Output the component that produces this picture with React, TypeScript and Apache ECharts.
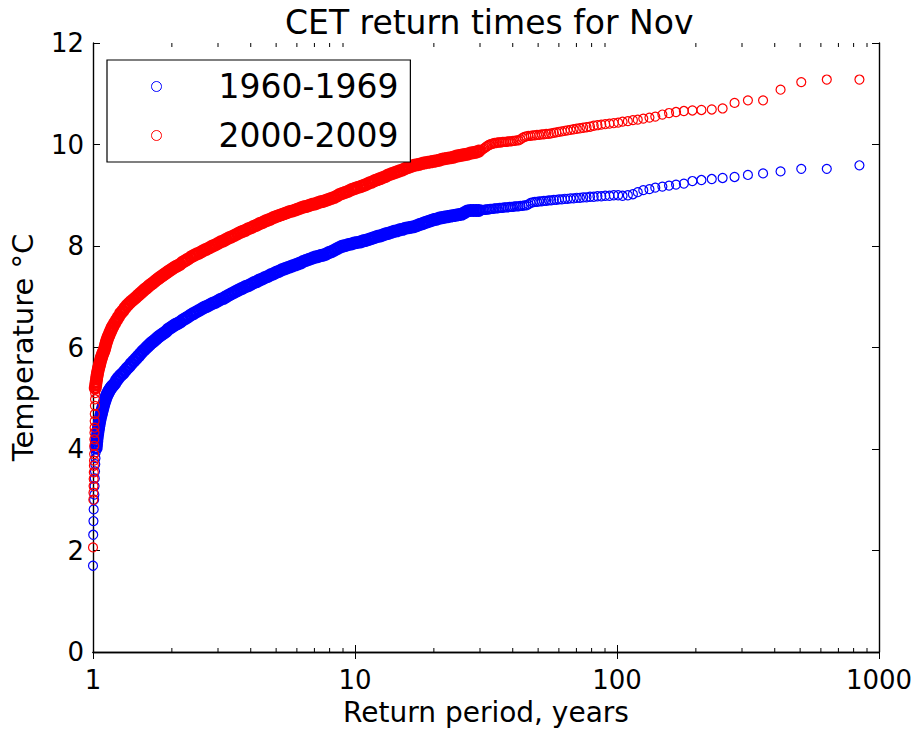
import React, { useEffect, useRef } from "react";
import * as echarts from "echarts";

const FONT = "'DejaVu Sans', 'Bitstream Vera Sans', sans-serif";

const TITLE = "CET return times for Nov";
const X_NAME = "Return period, years";
const Y_NAME = "Temperature °C";
const SERIES_NAMES = ["1960-1969", "2000-2009"];
const Y_TICKS = [0, 2, 4, 6, 8, 10, 12];
const MINOR_TICKS = [2, 3, 4, 5, 6, 7, 8, 9, 20, 30, 40, 50, 60, 70, 80, 90, 200, 300, 400, 500, 600, 700, 800, 900];

// 1960-1969: isolated points near return period 1
const blueStack: number[][] = [
  [1.0, 1.7], [1.002, 2.31], [1.004, 2.58], [1.006, 2.81], [1.01, 3.0], [1.012, 3.1], [1.014, 3.27],
  [1.016, 3.42], [1.018, 3.56], [1.02, 3.7], [1.022, 3.82], [1.025, 3.94],
];
// 1960-1969: densely packed band (return period ~1 to 30)
const blueBand: number[][] = [
  [1.028, 4.02], [1.031, 4.09], [1.034, 4.16], [1.038, 4.23], [1.042, 4.3], [1.046, 4.36], [1.05, 4.42],
  [1.055, 4.48], [1.06, 4.54], [1.066, 4.6], [1.072, 4.66], [1.078, 4.71], [1.084, 4.76], [1.09, 4.81],
  [1.097, 4.86], [1.104, 4.91], [1.112, 4.96], [1.12, 5.01], [1.13, 5.06], [1.14, 5.1], [1.15, 5.14],
  [1.16, 5.17], [1.17, 5.2], [1.181, 5.23], [1.192, 5.25],
  [1.21, 5.29], [1.23, 5.35], [1.25, 5.4], [1.275, 5.45], [1.3, 5.49], [1.325, 5.54], [1.35, 5.59],
  [1.375, 5.63], [1.4, 5.68], [1.43, 5.73], [1.46, 5.78], [1.49, 5.83], [1.52, 5.88], [1.55, 5.93],
  [1.58, 5.97], [1.61, 6.01], [1.64, 6.05], [1.67, 6.09], [1.7, 6.12], [1.735, 6.16], [1.77, 6.2],
  [1.8, 6.23], [1.835, 6.26], [1.87, 6.29], [1.905, 6.32], [1.94, 6.36], [1.98, 6.39], [2.02, 6.42],
  [2.06, 6.45],
  [2.1, 6.47], [2.15, 6.5], [2.2, 6.54], [2.25, 6.57], [2.3, 6.6], [2.36, 6.64], [2.42, 6.67],
  [2.48, 6.7], [2.54, 6.73], [2.6, 6.76], [2.66, 6.79], [2.72, 6.81], [2.79, 6.84], [2.86, 6.87],
  [2.93, 6.89], [3.0, 6.92], [3.07, 6.95], [3.15, 6.97], [3.22, 7.0], [3.3, 7.03], [3.38, 7.06],
  [3.47, 7.09], [3.56, 7.12], [3.65, 7.15], [3.73, 7.17], [3.82, 7.2], [3.92, 7.22], [4.02, 7.25],
  [4.12, 7.28], [4.22, 7.3], [4.32, 7.33], [4.43, 7.35], [4.54, 7.38], [4.65, 7.4], [4.76, 7.43],
  [4.88, 7.45], [5.0, 7.48],
  [5.12, 7.5], [5.25, 7.53], [5.38, 7.55], [5.51, 7.57], [5.65, 7.59], [5.78, 7.61], [5.93, 7.63],
  [6.07, 7.65], [6.22, 7.67], [6.38, 7.7], [6.54, 7.72], [6.7, 7.74], [6.87, 7.76], [7.04, 7.78],
  [7.2, 7.79], [7.38, 7.81], [7.56, 7.82], [7.75, 7.84], [7.94, 7.87], [8.14, 7.89], [8.35, 7.92],
  [8.56, 7.95], [8.78, 7.98], [9.0, 8.0], [9.22, 8.01], [9.45, 8.03], [9.7, 8.04], [9.95, 8.06],
  [10.2, 8.07], [10.5, 8.08], [10.75, 8.1], [11.0, 8.11], [11.3, 8.13], [11.6, 8.15], [11.9, 8.17],
  [12.2, 8.19], [12.5, 8.2], [12.8, 8.22], [13.1, 8.24], [13.4, 8.25], [13.75, 8.27], [14.1, 8.29],
  [14.45, 8.3], [14.8, 8.32], [15.2, 8.33], [15.6, 8.35], [16.0, 8.36], [16.4, 8.37], [16.8, 8.38],
  [17.2, 8.4], [17.6, 8.42], [18.1, 8.44], [18.5, 8.46], [19.0, 8.48], [19.5, 8.5], [20.0, 8.52],
  [20.5, 8.53], [21.0, 8.55], [21.5, 8.56], [22.0, 8.57], [22.6, 8.58], [23.2, 8.59], [23.8, 8.6],
  [24.4, 8.61], [25.0, 8.62], [25.6, 8.63], [26.2, 8.66], [26.9, 8.69], [27.6, 8.7], [28.3, 8.7],
  [29.0, 8.7], [29.7, 8.7],
];
// 1960-1969: separate points at long return periods
const blueTail: number[][] = [
  [30.1, 8.7], [30.4, 8.71], [30.8, 8.71], [31.2, 8.71], [31.6, 8.72], [32.0, 8.72], [32.4, 8.72],
  [32.8, 8.73], [33.2, 8.73], [33.7, 8.73], [34.1, 8.74], [34.6, 8.74], [35.1, 8.74], [35.6, 8.75],
  [36.1, 8.75], [36.6, 8.75], [37.1, 8.76], [37.7, 8.76], [38.3, 8.76], [38.9, 8.77], [39.5, 8.77],
  [40.1, 8.77], [40.7, 8.78], [41.4, 8.78], [42.1, 8.78], [42.8, 8.79], [43.6, 8.79], [44.3, 8.8],
  [45.1, 8.8], [45.9, 8.82], [46.8, 8.85], [47.7, 8.86], [48.6, 8.87], [49.5, 8.87], [50.5, 8.88],
  [51.6, 8.88], [52.6, 8.89], [53.7, 8.89], [54.9, 8.9], [56.1, 8.9], [57.4, 8.91], [58.7, 8.91],
  [60.1, 8.92], [61.6, 8.92], [63.2, 8.93], [64.8, 8.93], [66.5, 8.94], [68.3, 8.94], [70.2, 8.95],
  [72.2, 8.95], [74.3, 8.96], [76.5, 8.96], [78.9, 8.97], [81.5, 8.97], [84.2, 8.98], [87.1, 8.98],
  [90.2, 8.99], [93.6, 8.99], [97.2, 9.0], [101, 9.0],
  [105, 8.99], [110, 9.0], [115, 9.02], [120, 9.06], [126, 9.1], [133, 9.12], [140, 9.15], [149, 9.17],
  [158, 9.19], [168, 9.21], [180, 9.23], [194, 9.28], [210, 9.3], [230, 9.32], [253, 9.34], [281, 9.36],
  [316, 9.4], [361, 9.43], [421, 9.47], [505, 9.52], [632, 9.52], [842, 9.59],
];

// 2000-2009: isolated points near return period 1
const redStack: number[][] = [
  [1.0, 2.06], [1.003, 3.0], [1.004, 3.14], [1.005, 3.27], [1.006, 3.41], [1.007, 3.54], [1.008, 3.67],
  [1.009, 3.77], [1.01, 3.9], [1.011, 4.06], [1.012, 4.19], [1.013, 4.32], [1.014, 4.42], [1.015, 4.55],
  [1.016, 4.69], [1.017, 4.85], [1.018, 4.98], [1.019, 5.1],
];
// 2000-2009: densely packed band (return period ~1 to 30)
const redBand: number[][] = [
  [1.02, 5.2], [1.024, 5.26], [1.028, 5.32], [1.032, 5.38], [1.036, 5.44], [1.04, 5.49], [1.045, 5.54],
  [1.05, 5.59], [1.055, 5.63], [1.06, 5.67], [1.066, 5.72], [1.072, 5.77], [1.078, 5.81], [1.085, 5.85],
  [1.092, 5.89], [1.1, 5.93], [1.108, 5.98], [1.116, 6.04], [1.124, 6.1], [1.132, 6.15], [1.141, 6.2],
  [1.15, 6.24], [1.16, 6.29], [1.17, 6.33], [1.181, 6.38], [1.192, 6.42],
  [1.21, 6.48], [1.23, 6.54], [1.25, 6.6], [1.275, 6.67], [1.3, 6.72], [1.325, 6.78], [1.35, 6.83],
  [1.375, 6.87], [1.4, 6.91], [1.43, 6.95], [1.46, 6.99], [1.49, 7.03], [1.52, 7.07], [1.55, 7.11],
  [1.58, 7.15], [1.61, 7.18], [1.64, 7.22], [1.67, 7.25], [1.7, 7.28], [1.735, 7.32], [1.77, 7.35],
  [1.8, 7.38], [1.835, 7.41], [1.87, 7.44], [1.905, 7.47], [1.94, 7.5], [1.98, 7.53], [2.02, 7.56],
  [2.06, 7.59],
  [2.1, 7.61], [2.15, 7.64], [2.2, 7.68], [2.25, 7.71], [2.3, 7.74], [2.36, 7.78], [2.42, 7.81],
  [2.48, 7.84], [2.54, 7.86], [2.6, 7.89], [2.66, 7.92], [2.72, 7.94], [2.79, 7.97], [2.86, 8.0],
  [2.93, 8.02], [3.0, 8.05], [3.07, 8.08], [3.15, 8.1], [3.22, 8.13], [3.3, 8.16], [3.38, 8.18],
  [3.47, 8.21], [3.56, 8.24], [3.65, 8.27], [3.73, 8.29], [3.82, 8.31], [3.92, 8.34], [4.02, 8.36],
  [4.12, 8.39], [4.22, 8.41], [4.32, 8.44], [4.43, 8.46], [4.54, 8.49], [4.65, 8.51], [4.76, 8.53],
  [4.88, 8.56], [5.0, 8.58],
  [5.12, 8.6], [5.25, 8.62], [5.38, 8.64], [5.51, 8.66], [5.65, 8.68], [5.78, 8.69], [5.93, 8.71],
  [6.07, 8.73], [6.22, 8.75], [6.38, 8.77], [6.54, 8.78], [6.7, 8.8], [6.87, 8.82], [7.04, 8.83],
  [7.2, 8.85], [7.38, 8.87], [7.56, 8.88], [7.75, 8.9], [7.94, 8.92], [8.14, 8.94], [8.35, 8.96],
  [8.56, 8.99], [8.78, 9.02], [9.0, 9.04], [9.22, 9.06], [9.45, 9.08], [9.7, 9.11], [9.95, 9.13],
  [10.2, 9.15], [10.5, 9.17], [10.75, 9.19], [11.0, 9.21], [11.3, 9.24], [11.6, 9.26], [11.9, 9.29],
  [12.2, 9.31], [12.5, 9.33], [12.8, 9.35], [13.1, 9.37], [13.4, 9.4], [13.75, 9.42], [14.1, 9.44],
  [14.45, 9.46], [14.8, 9.48], [15.2, 9.5], [15.6, 9.53], [16.0, 9.55], [16.4, 9.57], [16.8, 9.59],
  [17.2, 9.6], [17.6, 9.61], [18.1, 9.63], [18.5, 9.64], [19.0, 9.65], [19.5, 9.66], [20.0, 9.67],
  [20.5, 9.68], [21.0, 9.69], [21.5, 9.71], [22.0, 9.72], [22.6, 9.73], [23.2, 9.74], [23.8, 9.75],
  [24.4, 9.77], [25.0, 9.78], [25.6, 9.79], [26.2, 9.8], [26.9, 9.81], [27.6, 9.83], [28.3, 9.84],
  [29.0, 9.85], [29.7, 9.87],
];
// 2000-2009: separate points at long return periods
const redTail: number[][] = [
  [30.1, 9.88], [30.4, 9.89], [30.8, 9.91], [31.2, 9.93], [31.6, 9.95], [32.0, 9.97], [32.4, 9.99],
  [32.8, 10.0], [33.2, 10.01], [33.7, 10.02], [34.1, 10.03], [34.6, 10.03], [35.1, 10.04], [35.6, 10.04],
  [36.1, 10.04], [36.6, 10.05], [37.1, 10.05], [37.7, 10.05], [38.3, 10.06], [38.9, 10.06], [39.5, 10.06],
  [40.1, 10.07], [40.7, 10.07], [41.4, 10.08], [42.1, 10.08], [42.8, 10.1], [43.6, 10.13], [44.3, 10.15],
  [45.1, 10.16], [45.9, 10.17], [46.8, 10.17], [47.7, 10.18], [48.6, 10.18], [49.5, 10.19], [50.5, 10.19],
  [51.6, 10.2], [52.6, 10.2], [53.7, 10.21], [54.9, 10.21], [56.1, 10.22], [57.4, 10.23], [58.7, 10.24],
  [60.1, 10.25], [61.6, 10.26], [63.2, 10.27], [64.8, 10.28], [66.5, 10.29], [68.3, 10.3], [70.2, 10.31],
  [72.2, 10.32], [74.3, 10.33], [76.5, 10.34], [78.9, 10.35], [81.5, 10.37], [84.2, 10.38], [87.1, 10.39],
  [90.2, 10.4], [93.6, 10.41], [97.2, 10.42], [101, 10.43],
  [105, 10.45], [110, 10.46], [115, 10.48], [120, 10.49], [126, 10.51], [133, 10.53], [140, 10.55],
  [149, 10.59], [158, 10.62], [168, 10.64], [180, 10.66], [194, 10.67], [210, 10.68], [230, 10.69],
  [253, 10.71], [281, 10.82], [316, 10.87], [361, 10.87], [421, 11.08], [505, 11.23], [632, 11.28],
  [842, 11.28],
];

const BLUE = "#0000ff";
const RED = "#ff0000";

function ringSeries(name: string, data: number[][], color: string, size: number, width: number) {
  return {
    name,
    type: "scatter",
    xAxisIndex: 0,
    yAxisIndex: 0,
    data,
    symbol: "circle",
    symbolSize: size,
    itemStyle: { color: "rgba(0,0,0,0)", borderColor: color, borderWidth: width, opacity: 1 },
    emphasis: { disabled: true },
    silent: true,
  };
}

export default function App() {
  const ref = useRef<HTMLDivElement>(null);

  useEffect(() => {
    if (!ref.current) return;
    const chart = echarts.init(ref.current, undefined, { renderer: "svg" });

    const axisLine = { show: true, lineStyle: { color: "#000", width: 1.4 } };
    const axisTick = { show: true, inside: true, length: 7, lineStyle: { color: "#000", width: 1 } };
    const label = { color: "#000", fontSize: 26, fontFamily: FONT };

    chart.setOption({
      animation: false,
      backgroundColor: "#fff",
      title: {
        text: TITLE,
        left: 280,
        top: 1,
        textStyle: { fontSize: 33, fontWeight: "normal", color: "#000", fontFamily: FONT },
      },
      legend: {
        left: 107,
        top: 60,
        orient: "vertical",
        padding: [10, 12, 10, 44],
        itemGap: 16,
        itemWidth: 10,
        itemHeight: 10,
        borderColor: "#000",
        borderWidth: 1.2,
        backgroundColor: "#fff",
        selectedMode: false,
        textStyle: { fontSize: 33, color: "#000", fontFamily: FONT, padding: [0, 0, 0, 52] },
        data: [
          { name: SERIES_NAMES[0], icon: "circle", itemStyle: { color: "rgba(0,0,0,0)", borderColor: BLUE, borderWidth: 1 } },
          { name: SERIES_NAMES[1], icon: "circle", itemStyle: { color: "rgba(0,0,0,0)", borderColor: RED, borderWidth: 1 } },
        ],
      },
      grid: { left: 92, right: 42, top: 43, bottom: 78, containLabel: false },
      xAxis: [
        {
          type: "log",
          logBase: 10,
          min: 1,
          max: 1000,
          position: "bottom",
          name: X_NAME,
          nameLocation: "middle",
          nameGap: 46,
          nameTextStyle: { color: "#000", fontSize: 28, fontFamily: FONT },
          axisLine,
          axisTick,
          axisLabel: { ...label, margin: 15, formatter: (v: number) => String(Math.round(v)) },
          splitLine: { show: false },
        },
        {
          type: "log",
          logBase: 10,
          min: 1,
          max: 1000,
          position: "top",
          axisLine,
          axisTick,
          axisLabel: { show: false },
          splitLine: { show: false },
        },
      ],
      yAxis: [
        {
          type: "value",
          min: Y_TICKS[0],
          max: Y_TICKS[Y_TICKS.length - 1],
          interval: 2,
          position: "left",
          name: Y_NAME,
          nameLocation: "middle",
          nameGap: 56,
          nameTextStyle: { color: "#000", fontSize: 29, fontFamily: FONT },
          axisLine,
          axisTick,
          axisLabel: { ...label, margin: 9 },
          splitLine: { show: false },
        },
        {
          type: "value",
          min: Y_TICKS[0],
          max: Y_TICKS[Y_TICKS.length - 1],
          interval: 2,
          position: "right",
          axisLine,
          axisTick,
          axisLabel: { show: false },
          splitLine: { show: false },
        },
      ],
      series: [
        ringSeries(SERIES_NAMES[0], blueStack.concat(blueTail), BLUE, 9, 1.2),
        ringSeries(SERIES_NAMES[0], blueBand, BLUE, 10, 3),
        ringSeries(SERIES_NAMES[1], redStack.concat(redTail), RED, 9, 1.2),
        ringSeries(SERIES_NAMES[1], redBand, RED, 10, 3),
        {
          type: "custom",
          name: "minor ticks",
          coordinateSystem: "cartesian2d",
          xAxisIndex: 0,
          yAxisIndex: 0,
          silent: true,
          clip: false,
          z: 10,
          data: MINOR_TICKS.map((v) => [v, 0]),
          renderItem: (_params: any, api: any) => {
            const v = api.value(0);
            const b = api.coord([v, Y_TICKS[0]]);
            const t = api.coord([v, Y_TICKS[Y_TICKS.length - 1]]);
            return {
              type: "group",
              children: [
                { type: "line", shape: { x1: b[0], y1: b[1], x2: b[0], y2: b[1] - 4 }, style: { stroke: "#000", lineWidth: 1 } },
                { type: "line", shape: { x1: t[0], y1: t[1], x2: t[0], y2: t[1] + 4 }, style: { stroke: "#000", lineWidth: 1 } },
              ],
            };
          },
        },
      ],
    });

    return () => chart.dispose();
  }, []);

  return (
    <div
      ref={ref}
      style={{ position: "absolute", left: 0, top: 0, width: 921, height: 731, background: "#fff" }}
    />
  );
}
